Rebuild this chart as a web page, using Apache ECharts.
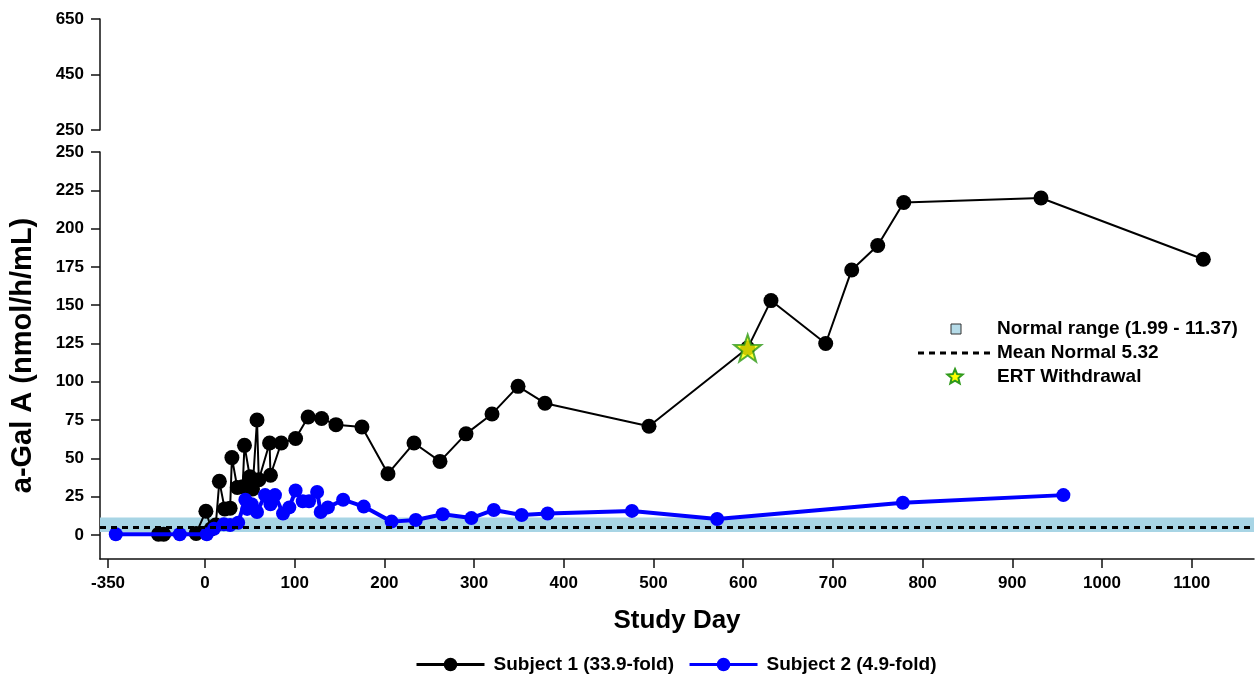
<!DOCTYPE html>
<html>
<head>
<meta charset="utf-8">
<script src="https://cdn.jsdelivr.net/npm/echarts@6/dist/echarts.min.js"></script>
<style>
html,body{margin:0;padding:0;background:#fff;}
#chart{width:1256px;height:678px;}
</style>
</head>
<body>
<div id="chart"></div>
<script>
// ---------- data (study day, a-Gal A nmol/h/mL) ----------
const subject1Days   = [-168,-149,-32,1,7,12,16,22,28,30,36,42,44,50,53,58,60,72,73,85,101,115,130,146,175,204,233,262,291,320,349,379,495,605,631,692,721,750,779,932,1113];
const subject1Values = [0.5,0.5,1,15.5,4,6.5,35,17,17.5,50.5,31,31.5,58.5,38,30,75,36,60,39,60,63,77,76,72,70.5,40,60,48,66,79,97,86,71,122,153,125,173,189,217,220,180];
const subject2Days   = [-322,-91,2,10,21,28,37,45,47,52,58,67,73,78,87,94,101,109,116,125,129,137,154,177,208,235,265,297,322,353,382,476,571,778,957];
const subject2Values = [0.5,0.5,0.5,4,7,6.5,8,23,17,20,15,26,20,26,14,18,29,22,22,28,15,18,23,18.5,8.7,9.8,13.5,11,16.3,13,14,15.7,10.4,21,26];
const ertDays   = [605];
const ertValues = [122];
const normalRange = [1.99, 11.37];
const meanNormal = 5.32;
const xTickDays = [-350,0,100,200,300,400,500,600,700,800,900,1000,1100];
const yLowerTicks = [0,25,50,75,100,125,150,175,200,225,250];
const yUpperTicks = [250,450,650];
const seriesNames = ['Subject 1 (33.9-fold)', 'Subject 2 (4.9-fold)'];

// broken x-scale: the -350..0 pre-treatment period is compressed
const NEG_SCALE = 108.1 / 350;
function tx(d){ return d < 0 ? d * NEG_SCALE : d; }
function untx(v){ return v < 0 ? v / NEG_SCALE : v; }
function pairs(xs, ys){ return xs.map((d,i)=>[tx(d), ys[i]]); }

const FONT = '"Liberation Sans", Arial, sans-serif';
const STAR = 'path://M0,-10 L2.35,-3.24 L9.51,-3.09 L3.8,1.24 L5.88,8.09 L0,4 L-5.88,8.09 L-3.8,1.24 L-9.51,-3.09 L-2.35,-3.24 Z';
const axisLineStyle = {color:'#111', width:1.5};
const labelStyle = {color:'#000', fontWeight:'bold', fontSize:17, fontFamily:FONT};
const X_MIN = -117.06, X_MAX = 1169.5;

const chart = echarts.init(document.getElementById('chart'), null, {renderer:'canvas'});

function starPoints(cx, cy, R, r){
  const pts=[];
  for(let i=0;i<10;i++){
    const a = -Math.PI/2 + i*Math.PI/5;
    const rad = i%2===0 ? R : r;
    pts.push([cx + rad*Math.cos(a), cy + rad*Math.sin(a)]);
  }
  return pts;
}

const option = {
  animation:false,
  backgroundColor:'#fff',
  grid:[
    {left:100, right:2, top:152, bottom:119},
    {left:100, right:2, top:19, height:111}
  ],
  xAxis:[
    {
      type:'value', gridIndex:0, min:X_MIN, max:X_MAX,
      axisLine:{show:true, lineStyle:axisLineStyle, onZero:false},
      axisTick:{show:true, length:9, lineStyle:axisLineStyle, customValues: xTickDays.map(tx)},
      axisLabel:{show:true, margin:16, ...labelStyle, customValues: xTickDays.map(tx),
        formatter: v => String(Math.round(untx(v)))},
      splitLine:{show:false},
      name:'Study Day', nameLocation:'middle', nameGap:49,
      nameTextStyle:{color:'#000', fontWeight:'bold', fontSize:26, fontFamily:FONT}
    },
    {
      type:'value', gridIndex:1, min:X_MIN, max:X_MAX, show:false
    }
  ],
  yAxis:[
    {
      type:'value', gridIndex:0, min:-15.7, max:250,
      axisLine:{show:true, lineStyle:axisLineStyle, onZero:false},
      axisTick:{show:true, length:9, lineStyle:axisLineStyle, customValues: yLowerTicks},
      axisLabel:{show:true, margin:16, ...labelStyle, customValues: yLowerTicks},
      splitLine:{show:false},
      name:'a-Gal A (nmol/h/mL)', nameLocation:'middle', nameGap:63,
      nameTextStyle:{color:'#000', fontWeight:'bold', fontSize:29, fontFamily:FONT}
    },
    {
      type:'value', gridIndex:1, min:250, max:650,
      axisLine:{show:true, lineStyle:axisLineStyle, onZero:false},
      axisTick:{show:true, length:9, lineStyle:axisLineStyle, customValues: yUpperTicks},
      axisLabel:{show:true, margin:16, ...labelStyle, customValues: yUpperTicks},
      splitLine:{show:false}
    }
  ],
  legend:{
    data: seriesNames,
    left:410, top:650,
    itemWidth:68, itemHeight:17, itemGap:14,
    lineStyle:{width:3},
    textStyle:{color:'#000', fontWeight:'bold', fontSize:19, fontFamily:FONT, padding:[0,0,0,4]}
  },
  series:[
    {
      name: seriesNames[0], type:'line', xAxisIndex:0, yAxisIndex:0,
      data: pairs(subject1Days, subject1Values),
      symbol:'circle', symbolSize:15,
      lineStyle:{color:'#000', width:2},
      itemStyle:{color:'#000'},
      z:3,
      markArea:{
        silent:true,
        itemStyle:{color:'#a8d5e5'},
        data:[[{yAxis:normalRange[0]},{yAxis:normalRange[1]}]],
        z:1
      },
      markLine:{
        silent:true, symbol:'none',
        label:{show:false},
        lineStyle:{color:'#000', width:3, type:[6,5]},
        data:[{yAxis:meanNormal}]
      }
    },
    {
      name: seriesNames[1], type:'line', xAxisIndex:0, yAxisIndex:0,
      data: pairs(subject2Days, subject2Values),
      symbol:'circle', symbolSize:14,
      lineStyle:{color:'#0000ff', width:4},
      itemStyle:{color:'#0000ff'},
      z:4
    },
    {
      name:'ERT Withdrawal', type:'scatter', xAxisIndex:0, yAxisIndex:0,
      data: pairs(ertDays, ertValues),
      symbol: STAR, symbolSize:27,
      itemStyle:{color:'#ffff00', borderColor:'#2f9a1c', borderWidth:2},
      z:6
    }
  ],
  graphic:[
    {type:'rect', shape:{x:951, y:324, width:10, height:10},
     style:{fill:'#b5dbe8', stroke:'#333', lineWidth:1}},
    {type:'line', shape:{x1:918, y1:353, x2:990, y2:353},
     style:{stroke:'#000', lineWidth:3, lineDash:[6,5]}},
    {type:'polygon', shape:{points: starPoints(955,377,8,3.6)},
     style:{fill:'#ffff00', stroke:'#2f9a1c', lineWidth:2}},
    {type:'text', x:997, y:329, style:{text:'Normal range (1.99 - 11.37)', fill:'#000', font:'bold 19px ' + FONT, textVerticalAlign:'middle'}},
    {type:'text', x:997, y:353, style:{text:'Mean Normal 5.32', fill:'#000', font:'bold 19px ' + FONT, textVerticalAlign:'middle'}},
    {type:'text', x:997, y:377, style:{text:'ERT Withdrawal', fill:'#000', font:'bold 19px ' + FONT, textVerticalAlign:'middle'}}
  ]
};
chart.setOption(option);
</script>
</body>
</html>
